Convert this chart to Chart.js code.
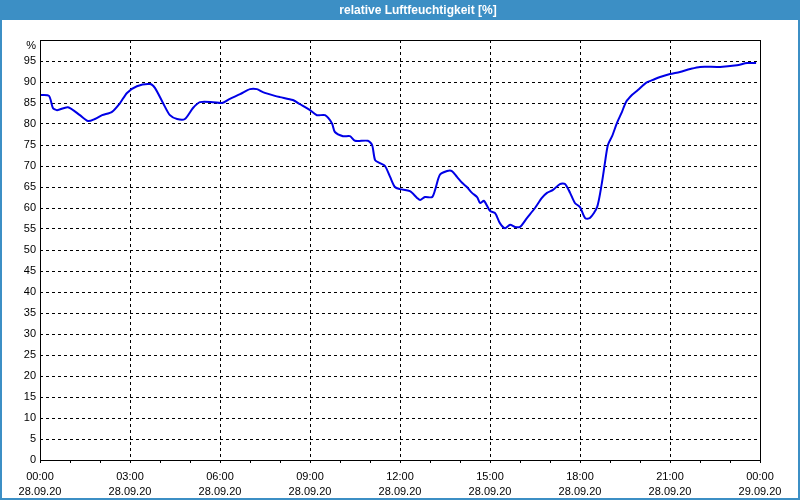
<!DOCTYPE html>
<html>
<head>
<meta charset="utf-8">
<script src="https://cdn.jsdelivr.net/npm/chart.js@4/dist/chart.umd.min.js"></script>
<style>
  html, body { margin: 0; padding: 0; background: #fff; }
  #wrap { width: 800px; height: 500px; }
</style>
</head>
<body>
<div id="wrap"><canvas id="humidity-chart" width="800" height="500"></canvas></div>
<script>
let chartTitle = 'relative Luftfeuchtigkeit [%]'
let unitLabel = '%'

// hours since 28.09.20 00:00
let hours = [
  0.00, 0.30, 0.43, 0.57, 0.93, 1.33, 1.60, 1.83, 2.07, 2.40,
  2.67, 2.90, 3.23, 3.67, 3.83, 4.10, 4.33, 4.57, 4.83, 5.10,
  5.33, 5.77, 6.07, 6.33, 6.67, 7.00, 7.23, 7.43, 7.83, 8.00,
  8.43, 8.67, 9.00, 9.23, 9.50, 9.73, 9.83, 10.10, 10.33, 10.50,
  10.93, 11.07, 11.17, 11.33, 11.50, 11.67, 11.83, 12.00, 12.33, 12.57,
  12.67, 12.83, 13.07, 13.17, 13.33, 13.57, 13.73, 13.90, 14.07, 14.23,
  14.40, 14.57, 14.67, 14.80, 15.00, 15.17, 15.33, 15.50, 15.67, 15.83,
  16.00, 16.23, 16.50, 16.73, 16.90, 17.10, 17.33, 17.50, 17.67, 17.83,
  18.00, 18.17, 18.33, 18.57, 18.73, 18.83, 18.93, 19.07, 19.23, 19.40,
  19.53, 19.73, 19.93, 20.20, 20.43, 20.67, 21.00, 21.33, 21.67, 22.00,
  22.67, 23.23, 23.57, 23.87
]

// relative humidity in %
let humidity = [
  86.9, 86.7, 83.8, 83.3, 84.0, 82.1, 80.7, 81.2, 82.1, 82.9,
  85.0, 87.4, 89.0, 89.5, 88.6, 85.0, 82.1, 81.2, 81.2, 83.8,
  85.2, 85.2, 85.0, 86.0, 87.1, 88.3, 88.3, 87.6, 86.7, 86.4,
  85.7, 84.7, 83.3, 82.1, 82.1, 80.2, 78.1, 77.1, 77.1, 76.0,
  76.0, 75.0, 71.4, 70.7, 70.0, 67.4, 65.0, 64.5, 64.0, 62.4,
  61.9, 62.6, 62.6, 64.3, 67.9, 68.8, 68.8, 67.4, 66.0, 65.0,
  63.6, 62.6, 61.2, 61.7, 59.3, 58.8, 56.4, 55.2, 56.0, 55.5,
  55.5, 57.6, 60.0, 62.4, 63.6, 64.3, 65.7, 65.7, 63.6, 61.2,
  60.2, 57.6, 57.6, 60.2, 66.0, 70.7, 75.0, 77.1, 80.2, 82.9,
  85.2, 86.9, 88.1, 89.8, 90.5, 91.2, 91.9, 92.4, 93.1, 93.6,
  93.6, 94.0, 94.5, 94.5
]

// x tick labels every 3 hours
let timeLabels = ['00:00', '03:00', '06:00', '09:00', '12:00', '15:00', '18:00', '21:00', '00:00']
let dateLabels = ['28.09.20', '28.09.20', '28.09.20', '28.09.20', '28.09.20', '28.09.20', '28.09.20', '28.09.20', '29.09.20']

let frameBlue = '#3c8fc5'
let lineBlue = '#0000e6'
let font = 'Liberation Sans'

let points = []
for (let i = 0; i < hours.length; i++) {
  points.push({x: hours[i], y: humidity[i]})
}

// draws title bar, outer frame, plot frame and the unit label
let decoration = {
  id: 'decoration',
  beforeDraw(chart) {
    let c = chart.ctx
    c.save()
    c.fillStyle = '#fff'
    c.fillRect(0, 0, chart.width, chart.height)
    c.fillStyle = frameBlue
    c.fillRect(0, 0, chart.width, 20)
    c.fillStyle = '#fff'
    c.font = 'bold 12px "' + font + '"'
    c.textAlign = 'center'
    c.textBaseline = 'middle'
    c.fillText(chartTitle, 418, 11)
    c.restore()
  },
  afterDraw(chart) {
    let c = chart.ctx
    let a = chart.chartArea
    c.save()
    c.strokeStyle = '#000'
    c.lineWidth = 1
    c.strokeRect(Math.round(a.left) + 0.5, Math.round(a.top) + 0.5, Math.round(a.right - a.left), Math.round(a.bottom - a.top))
    c.fillStyle = '#000'
    c.font = '11px "' + font + '"'
    c.textAlign = 'right'
    c.textBaseline = 'middle'
    c.fillText(unitLabel, a.left - 4, a.top + 6)
    c.strokeStyle = frameBlue
    c.lineWidth = 2
    c.strokeRect(1, 1, chart.width - 2, chart.height - 2)
    c.restore()
  }
}

let ctx = document.querySelector('#humidity-chart').getContext('2d')

let chart = new Chart(ctx, {
  type: 'line',
  data: {
    datasets: [{
      data: points,
      borderColor: lineBlue,
      borderWidth: 2,
      pointRadius: 0,
      tension: 0.25,
      fill: false
    }]
  },
  options: {
    responsive: false,
    animation: false,
    layout: {padding: {top: 40, right: 40, left: 0, bottom: 0}},
    plugins: {legend: {display: false}, tooltip: {enabled: false}, title: {display: false}},
    scales: {
      x: {
        type: 'linear',
        min: 0,
        max: 24,
        afterFit(scale) { scale.height = 40 },
        afterBuildTicks(scale) {
          let t = []
          for (let h = 0; h <= 24; h++) t.push({value: h})
          scale.ticks = t
        },
        border: {display: false, dash: [3, 3]},
        grid: {
          color: c => (c.tick && c.tick.value % 3 === 0) ? '#000' : 'rgba(0,0,0,0)',
          tickColor: '#000',
          tickLength: 3,
          tickBorderDash: [],
          lineWidth: 1
        },
        ticks: {
          autoSkip: false,
          maxRotation: 0,
          padding: 6,
          color: '#000',
          font: {family: font, size: 11, lineHeight: '15px'},
          callback: v => v % 3 === 0 ? [timeLabels[v / 3], dateLabels[v / 3]] : ''
        }
      },
      y: {
        min: 0,
        max: 100,
        afterFit(scale) { scale.width = 40 },
        border: {display: false, dash: [3, 3]},
        grid: {
          color: '#000',
          drawTicks: false,
          lineWidth: 1
        },
        ticks: {
          stepSize: 5,
          padding: 4,
          color: '#000',
          font: {family: font, size: 11},
          callback: v => v === 100 ? '' : String(v)
        }
      }
    }
  },
  plugins: [decoration]
})
</script>
</body>
</html>
